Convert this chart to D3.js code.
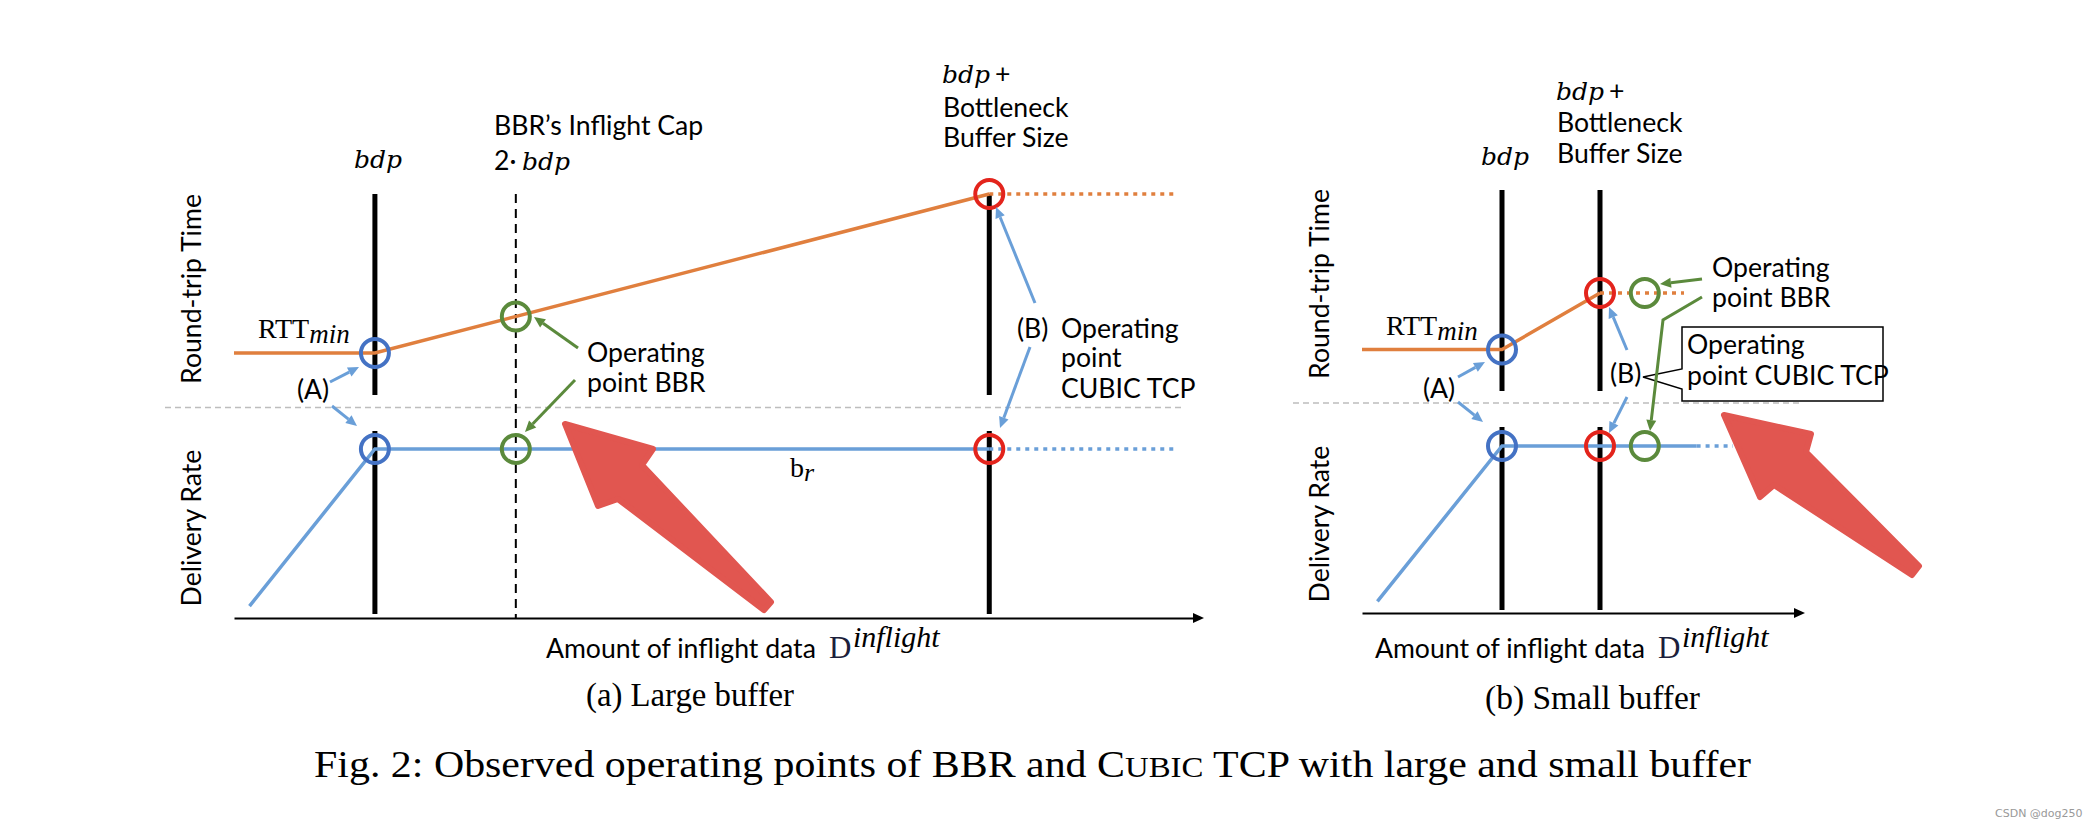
<!DOCTYPE html>
<html><head><meta charset="utf-8">
<script src="https://cdn.jsdelivr.net/npm/d3@7"></script>
<style>body{margin:0;background:#fff}svg{display:block}</style>
</head><body>
<script>
// ---------------- DATA (x in units of bdp, RTT in units of RTTmin, rate in units of b_r) -------------
const largeGuides   = [1, 2, 5.36];        // bdp, BBR cap 2·bdp, bdp + buffer
const largeRttX     = [0, 1, 5.36];
const largeRttY     = [1, 1, 5.36];
const largeRttExtX  = [5.36, 6.7];
const largeRateX    = [0.11, 1, 5.36];
const largeRateY    = [0.07, 1, 1];
const largeRateExtX = [5.36, 6.7];
const largeOps      = [{x: 1, c: "blue"}, {x: 2, c: "green"}, {x: 5.36, c: "red"}];

const smallGuides   = [1, 1.7];            // bdp, bdp + buffer
const smallRttX     = [0, 1, 1.7];
const smallRttY     = [1, 1, 1.7];
const smallRttExtX  = [1.7, 2.3];
const smallRateX    = [0.11, 1, 2.39];
const smallRateY    = [0.07, 1, 1];
const smallRateExtX = [2.39, 2.65];
const smallOps      = [{x: 1, c: "blue"}, {x: 1.7, c: "red"}, {x: 2.02, c: "green"}];

const subCaptions = ["(a) Large buffer", "(b) Small buffer"];
const yLabels = ["Round-trip Time", "Delivery Rate"];
const xLabel = "Amount of inflight data";

// ---------------- STYLE ----------------
const SANS = "Lato, 'Open Sans', sans-serif";
const SERIF = "'Liberation Serif', 'Times New Roman', serif";
const MATH = "'DejaVu Serif', serif";
const COL = {orange: "#E07F3E", line: "#6A9FD8", blue: "#4472C4", red: "#E3241C", green: "#5B8A3C",
             garrow: "#5B8A3C", barrow: "#6A9FD8", big: "#E15650"};

const svg = d3.select("body").append("svg").attr("width", 2092).attr("height", 830);

const probe = svg.append("text").attr("font-family", SANS).attr("font-size", 100).text(xLabel);
const FS = 100 * 270 / probe.node().getComputedTextLength();
probe.remove();

function arrow(g, pts, color, w = 3, head = 11, hw = 5) {
  const n = pts.length, [x2, y2] = pts[n - 1], [x1, y1] = pts[n - 2];
  const a = Math.atan2(y2 - y1, x2 - x1);
  const bx = x2 - head * Math.cos(a), by = y2 - head * Math.sin(a);
  g.append("path").attr("d", d3.line()(pts.slice(0, n - 1).concat([[bx, by]])))
    .attr("fill", "none").attr("stroke", color).attr("stroke-width", w);
  const px = -Math.sin(a), py = Math.cos(a);
  g.append("path").attr("d", `M${x2},${y2}L${bx + hw * px},${by + hw * py}L${bx - hw * px},${by - hw * py}Z`).attr("fill", color);
}
function sans(g, x, y, t, anchor = "start") {
  return g.append("text").attr("x", x).attr("y", y).attr("font-family", SANS).attr("font-size", FS)
    .attr("text-anchor", anchor).attr("fill", "#000").text(t);
}
function bdp(g, x, y, anchor = "start") {
  return g.append("text").attr("x", x).attr("y", y).attr("font-family", MATH).attr("font-style", "italic")
    .attr("font-size", 25).attr("text-anchor", anchor).attr("fill", "#000").text("bdp");
}
function rttMin(g, x, y) {
  const t = g.append("text").attr("x", x).attr("y", y).attr("font-family", SERIF).attr("font-size", 28);
  t.append("tspan").text("RTT");
  t.append("tspan").attr("font-style", "italic").attr("font-size", 27).attr("dy", 5).text("min");
}
function xAxisLabel(g, x, y) {
  const t = sans(g, x, y, xLabel);
  const w = t.node().getComputedTextLength();
  g.append("text").attr("x", x + w + 13).attr("y", y).attr("font-family", SERIF).attr("font-size", 31)
    .attr("fill", "#1c1f3c").text("D");
  g.append("text").attr("x", x + w + 37).attr("y", y - 11).attr("font-family", SERIF).attr("font-style", "italic")
    .attr("font-size", 30).attr("fill", "#000").text("inflight");
}

function panel(cfg) {
  const g = svg.append("g");
  const x = d3.scaleLinear().domain(cfg.xDomain).range(cfg.xRange);
  const yR = d3.scaleLinear().domain(cfg.rttDomain).range(cfg.rttRange);
  const yD = d3.scaleLinear().domain([0, 1]).range(cfg.rateRange);

  g.append("line").attr("x1", cfg.sep[0]).attr("x2", cfg.sep[1]).attr("y1", cfg.sep[2]).attr("y2", cfg.sep[2])
    .attr("stroke", "#BDBDBD").attr("stroke-width", 1.5).attr("stroke-dasharray", "6,4");

  const ax = g.append("g").attr("transform", `translate(0,${cfg.axisY})`)
    .call(d3.axisBottom(x).tickValues([]).tickSizeOuter(0));
  ax.select(".domain").attr("stroke", "#000").attr("stroke-width", 2);
  const xe = x(cfg.xDomain[1]);
  g.append("path").attr("d", `M${xe + 9},${cfg.axisY}L${xe - 2},${cfg.axisY - 5}L${xe - 2},${cfg.axisY + 5}Z`).attr("fill", "#000");

  cfg.guides.forEach((v, i) => {
    if (cfg.dashed === i) {
      g.append("line").attr("x1", x(v)).attr("x2", x(v)).attr("y1", cfg.upper[0]).attr("y2", cfg.axisY)
        .attr("stroke", "#000").attr("stroke-width", 2).attr("stroke-dasharray", "9,6");
    } else {
      [cfg.upper, cfg.lower].forEach(b => g.append("line").attr("x1", x(v)).attr("x2", x(v))
        .attr("y1", b[0]).attr("y2", b[1]).attr("stroke", "#000").attr("stroke-width", 5));
    }
  });

  const lr = d3.line().x(d => x(d[0])).y(d => yR(d[1]));
  const ld = d3.line().x(d => x(d[0])).y(d => yD(d[1]));
  g.append("path").attr("d", lr(d3.zip(cfg.rttX, cfg.rttY))).attr("fill", "none")
    .attr("stroke", COL.orange).attr("stroke-width", 3.5);
  const top = cfg.rttY[cfg.rttY.length - 1];
  g.append("path").attr("d", lr(cfg.rttExtX.map(v => [v, top]))).attr("fill", "none")
    .attr("stroke", COL.orange).attr("stroke-width", 3.5).attr("stroke-dasharray", "4,5");
  g.append("path").attr("d", ld(d3.zip(cfg.rateX, cfg.rateY))).attr("fill", "none")
    .attr("stroke", COL.line).attr("stroke-width", 3.5);
  g.append("path").attr("d", ld(cfg.rateExtX.map(v => [v, 1]))).attr("fill", "none")
    .attr("stroke", COL.line).attr("stroke-width", 3.5).attr("stroke-dasharray", "4,5");

  const rttAt = v => Math.min(Math.max(v, 1), top);
  cfg.ops.forEach(o => {
    g.append("circle").attr("cx", x(o.x)).attr("cy", yR(rttAt(o.x))).attr("r", 14)
      .attr("fill", "none").attr("stroke", COL[o.c]).attr("stroke-width", 4);
    g.append("circle").attr("cx", x(o.x)).attr("cy", yD(1)).attr("r", 14)
      .attr("fill", "none").attr("stroke", COL[o.c]).attr("stroke-width", 4);
  });

  cfg.yLab.forEach((c, i) => g.append("text").attr("transform", `translate(${c[0]},${c[1]}) rotate(-90)`)
    .attr("text-anchor", "middle").attr("dy", "0.35em").attr("font-family", SANS).attr("font-size", FS).text(yLabels[i]));

  xAxisLabel(g, cfg.xLab[0], cfg.xLab[1]);
  g.append("text").attr("x", cfg.cap[0]).attr("y", cfg.cap[1]).attr("font-family", SERIF).attr("font-size", 34)
    .attr("textLength", cfg.cap[2]).attr("lengthAdjust", "spacingAndGlyphs").text(cfg.caption);

  g.append("path").attr("d", d3.line()(cfg.big.shape.map(p => [cfg.big.tip[0] + p[0], cfg.big.tip[1] + p[1]])) + "Z")
    .attr("fill", COL.big).attr("stroke", COL.big).attr("stroke-width", 6).attr("stroke-linejoin", "round");

  return {g, x, yR, yD};
}

// ---------------- LEFT PANEL ----------------
const L = panel({
  xDomain: [0, 6.82], xRange: [234, 1195],
  rttDomain: [1, 5.36], rttRange: [353, 194], rateRange: [618, 449],
  upper: [194, 395], lower: [431, 614], axisY: 618, sep: [165, 1182, 407.5],
  guides: largeGuides, dashed: 1,
  rttX: largeRttX, rttY: largeRttY, rttExtX: largeRttExtX,
  rateX: largeRateX, rateY: largeRateY, rateExtX: largeRateExtX, ops: largeOps,
  yLab: [[192, 289], [192, 528]], xLab: [546, 658], cap: [586, 706, 208], caption: subCaptions[0],
  big: {tip: [563, 422], shape: [[2, 2], [90, 27], [79, 43], [208, 180], [201, 188], [55, 77], [35, 84]]}
});
{
  const g = L.g;
  bdp(g, 378, 168, "middle");
  sans(g, 494, 135, "BBR\u2019s Inflight Cap");
  sans(g, 494, 170, "2\u00B7");
  bdp(g, 522, 170);
  bdp(g, 942, 83);
  sans(g, 995, 83, "+");
  sans(g, 943, 117, "Bottleneck");
  sans(g, 943, 147, "Buffer Size");
  rttMin(g, 258, 338);
  sans(g, 297, 399, "(A)");
  arrow(g, [[330, 382], [359, 367]], COL.barrow);
  arrow(g, [[332, 406], [357, 426]], COL.barrow);
  sans(g, 587, 362, "Operating");
  sans(g, 587, 392, "point BBR");
  arrow(g, [[578, 348], [534, 317]], COL.garrow);
  arrow(g, [[575, 380], [525, 432]], COL.garrow);
  sans(g, 1017, 338, "(B)");
  sans(g, 1061, 338, "Operating");
  sans(g, 1061, 367, "point");
  sans(g, 1061, 398, "CUBIC TCP");
  arrow(g, [[1035, 303], [996, 207]], COL.barrow);
  arrow(g, [[1030, 347], [1000, 428]], COL.barrow);
  const br = g.append("text").attr("x", 790).attr("y", 477).attr("font-family", SERIF).attr("font-size", 28);
  br.append("tspan").text("b");
  br.append("tspan").attr("font-style", "italic").attr("font-size", 26).attr("dy", 4).text("r");
}

// ---------------- RIGHT PANEL ----------------
const R = panel({
  xDomain: [0, 3.1], xRange: [1362, 1796],
  rttDomain: [1, 1.7], rttRange: [349.5, 293], rateRange: [613, 446],
  upper: [190, 391], lower: [427, 610], axisY: 613, sep: [1293, 1800, 403],
  guides: smallGuides, dashed: -1,
  rttX: smallRttX, rttY: smallRttY, rttExtX: smallRttExtX,
  rateX: smallRateX, rateY: smallRateY, rateExtX: smallRateExtX, ops: smallOps,
  yLab: [[1320, 284], [1320, 524]], xLab: [1375, 658], cap: [1485, 709, 215], caption: subCaptions[1],
  big: {tip: [1722, 413], shape: [[2, 2], [89, 21], [84, 39], [197, 153], [190, 162], [52, 72], [38, 84]]}
});
{
  const g = R.g;
  bdp(g, 1505, 165, "middle");
  bdp(g, 1556, 100);
  sans(g, 1609, 100, "+");
  sans(g, 1557, 132, "Bottleneck");
  sans(g, 1557, 163, "Buffer Size");
  rttMin(g, 1386, 335);
  sans(g, 1423, 398, "(A)");
  arrow(g, [[1458, 377], [1485, 362]], COL.barrow);
  arrow(g, [[1458, 402], [1483, 422]], COL.barrow);
  sans(g, 1610, 383, "(B)");
  arrow(g, [[1627, 350], [1609, 307]], COL.barrow);
  arrow(g, [[1627, 397], [1609, 433]], COL.barrow);
  sans(g, 1712, 277, "Operating");
  sans(g, 1712, 307, "point BBR");
  g.append("path").attr("d", "M1682,327H1883V401H1682V389L1643,377L1682,369Z")
    .attr("fill", "#fff").attr("stroke", "#000").attr("stroke-width", 1.5);
  sans(g, 1687, 354, "Operating");
  sans(g, 1687, 385, "point CUBIC TCP");
  arrow(g, [[1702, 279], [1660, 284]], COL.garrow);
  arrow(g, [[1702, 297], [1663, 320], [1650, 431]], COL.garrow);
}

// ---------------- FIGURE CAPTION ----------------
const cap = svg.append("text").attr("x", 314).attr("y", 777).attr("font-family", SERIF).attr("font-size", 37)
  .attr("textLength", 1437).attr("lengthAdjust", "spacingAndGlyphs");
cap.append("tspan").text("Fig. 2: Observed operating points of BBR and C");
cap.append("tspan").attr("font-size", 29).text("UBIC");
cap.append("tspan").text(" TCP with large and small buffer");

svg.append("text").attr("x", 1995).attr("y", 817).attr("font-family", "'DejaVu Sans', sans-serif")
  .attr("font-size", 11).attr("fill", "#999").text("CSDN @dog250");
</script>
</body></html>
